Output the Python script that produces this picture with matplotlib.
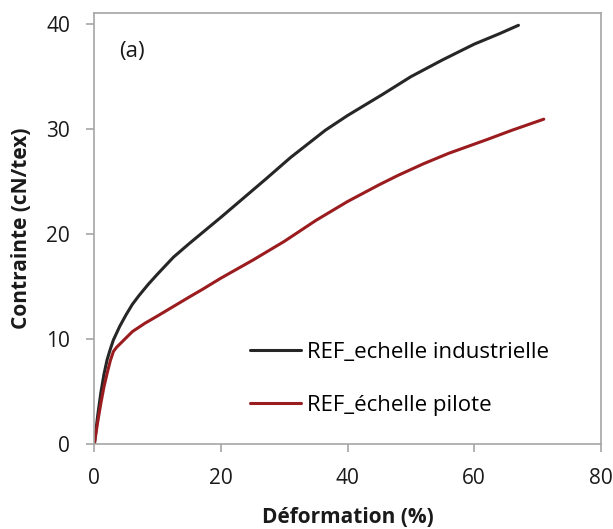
import matplotlib
matplotlib.use("Agg")
import matplotlib.pyplot as plt

# Data
indus_x = [0, 0.5, 1, 1.5, 2, 2.5, 3, 4, 5, 6, 7, 8.5, 10, 12.5, 15, 17, 20, 23.5, 27, 31, 36.5, 40, 45.5, 50, 55, 60, 64, 67]
indus_y = [0, 2.6, 4.8, 6.6, 8.0, 9.0, 9.9, 11.2, 12.3, 13.3, 14.1, 15.2, 16.2, 17.8, 19.1, 20.1, 21.6, 23.4, 25.2, 27.3, 29.9, 31.3, 33.3, 35.0, 36.6, 38.1, 39.1, 39.9]

pilote_x = [0, 0.5, 1, 1.5, 2, 2.5, 3, 3.5, 4, 6, 8, 10, 12.5, 15, 17, 20, 25, 30, 35, 40, 45, 48, 52, 56, 62, 66, 71]
pilote_y = [0, 2.0, 3.8, 5.4, 6.7, 7.9, 8.8, 9.2, 9.5, 10.7, 11.5, 12.2, 13.1, 14.0, 14.7, 15.8, 17.5, 19.3, 21.3, 23.1, 24.7, 25.6, 26.7, 27.7, 29.0, 29.9, 30.95]

labels = ["REF_echelle industrielle", "REF_\u00e9chelle pilote"]
x_ticks = [0, 20, 40, 60, 80]
y_ticks = [0, 10, 20, 30, 40]

plt.rcParams['font.family'] = ['Open Sans', 'DejaVu Sans']

fig = plt.figure(figsize=(6.13, 5.29), dpi=100)
ax = fig.add_axes([0.154, 0.161, 0.826, 0.814])

ax.plot(indus_x, indus_y, color='#262626', lw=2.2, label=labels[0],
        solid_capstyle='round', solid_joinstyle='round')
ax.plot(pilote_x, pilote_y, color='#9b1c1f', lw=2.2, label=labels[1],
        solid_capstyle='round', solid_joinstyle='round')

ax.set_xlim(0, 80)
ax.set_ylim(0, 41.05)
ax.set_xticks(x_ticks)
ax.set_yticks(y_ticks)

grey = '#a6a6a6'
for s in ax.spines.values():
    s.set_color(grey)
    s.set_linewidth(1.2)
ax.tick_params(direction='out', length=5.5, width=1.2, color=grey,
               labelsize=15, labelcolor='#1a1a1a', pad=12)

ax.set_xlabel('D\u00e9formation (%)', fontsize=15, fontweight='bold', color='#1a1a1a', va='center')
ax.set_ylabel('Contrainte (cN/tex)', fontsize=15, fontweight='bold', color='#1a1a1a', va='center')
ax.xaxis.set_label_coords(0.5, -0.170)
ax.yaxis.set_label_coords(-0.143, 0.5)

ax.text(6.0, 37.4, '(a)', fontsize=16, va='center', ha='center', color='#1a1a1a')

ax.legend(loc='center left', bbox_to_anchor=(0.289, 0.151), borderaxespad=0, frameon=False,
          fontsize=16, handlelength=2.3, handletextpad=0.27, labelspacing=1.45)

fig.savefig('out.png', dpi=100)
